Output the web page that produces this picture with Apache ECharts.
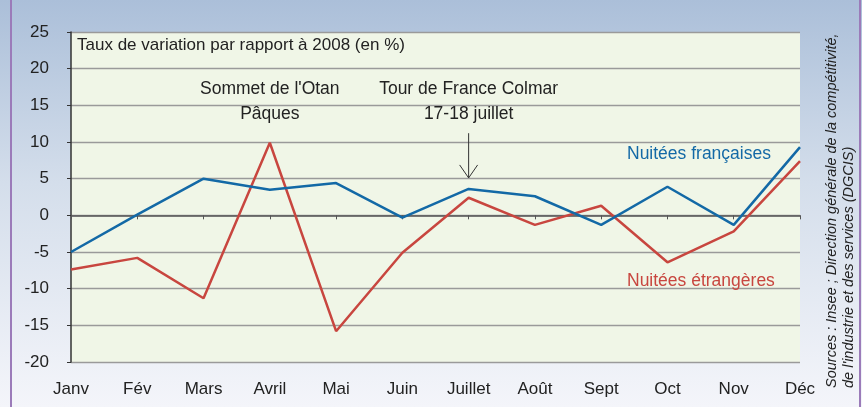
<!DOCTYPE html>
<html>
<head>
<meta charset="utf-8">
<script src="https://cdn.jsdelivr.net/npm/echarts@6/dist/echarts.min.js"></script>
<style>
html,body{margin:0;padding:0;}
#c{width:862px;height:407px;background:linear-gradient(to bottom,#abbfd9 0%,#d4deeb 45%,#f4f5fa 100%);}
</style>
</head>
<body>
<div id="c"></div>
<script>
var categories = ['Janv','Fév','Mars','Avril','Mai','Juin','Juillet','Août','Sept','Oct','Nov','Déc'];
var nuiteesFrancaises = [-5.0, 0.1, 5.0, 3.5, 4.4, -0.3, 3.6, 2.6, -1.3, 3.9, -1.3, 9.3];
var nuiteesEtrangeres = [-7.4, -5.8, -11.3, 9.9, -15.8, -5.1, 2.4, -1.3, 1.3, -6.4, -2.2, 7.4];
var yTicks = {min: -20, max: 25, interval: 5};

var FONT = "'Liberation Sans',Arial,sans-serif";
var chart = echarts.init(document.getElementById('c'), null, {renderer:'canvas'});
var option = {
  animation: false,
  backgroundColor: 'transparent',
  textStyle: {fontFamily: FONT},
  grid: {left: 71, right: 62, top: 32, bottom: 45, show: true, backgroundColor: '#f0f6e7', borderWidth: 0},
  xAxis: [{
    type: 'category', data: categories, boundaryGap: false, position: 'bottom',
    axisLine: {show: false, onZero: false}, axisTick: {show: false}, splitLine: {show: false},
    axisLabel: {color: '#222', fontSize: 17, margin: 19, fontFamily: FONT}
  },{
    type: 'category', data: categories, boundaryGap: false, position: 'bottom',
    axisLine: {show: true, onZero: true, lineStyle: {color: '#555', width: 1.5}},
    axisTick: {show: true, length: 4, lineStyle: {color: '#555', width: 1}},
    axisLabel: {show: false}, splitLine: {show: false}
  }],
  yAxis: {
    type: 'value', min: yTicks.min, max: yTicks.max, interval: yTicks.interval,
    axisLine: {show: true, lineStyle: {color: '#333', width: 1.5}},
    axisTick: {show: true, length: 4, lineStyle: {color: '#333'}},
    axisLabel: {color: '#222', fontSize: 17, margin: 22, fontFamily: FONT},
    splitLine: {show: true, lineStyle: {color: '#9a9a9a', width: 1.3}}
  },
  series: [{
    name: 'Nuitées françaises', type: 'line', data: nuiteesFrancaises, xAxisIndex: 0,
    symbol: 'none', lineStyle: {color: '#1369a6', width: 2.5}, z: 3
  },{
    name: 'Nuitées étrangères', type: 'line', data: nuiteesEtrangeres, xAxisIndex: 0,
    symbol: 'none', lineStyle: {color: '#c8463f', width: 2.5}, z: 2
  }]
};
chart.setOption(option);

var arrowTop = chart.convertToPixel({gridIndex: 0}, ['Juillet', 11.2]);
var arrowTip = chart.convertToPixel({gridIndex: 0}, ['Juillet', 5.1]);
var avrilPx = chart.convertToPixel({gridIndex: 0}, ['Avril', 0]);
var juilletPx = chart.convertToPixel({gridIndex: 0}, ['Juillet', 0]);

chart.setOption({
  graphic: [
    {type: 'rect', shape: {x: 10, y: 0, width: 2, height: 407}, style: {fill: '#9b7bb9'}, silent: true},
    {type: 'rect', shape: {x: 859, y: 0, width: 2, height: 407}, style: {fill: '#9b7bb9'}, silent: true},
    {type: 'text', x: 77, y: 45, style: {text: 'Taux de variation par rapport à 2008 (en %)', font: '17px ' + FONT, fill: '#222', textVerticalAlign: 'middle'}, z: 10},
    {type: 'text', x: avrilPx[0], y: 89, style: {text: "Sommet de l'Otan", font: '17.5px ' + FONT, fill: '#222', textAlign: 'center', textVerticalAlign: 'middle'}, z: 10},
    {type: 'text', x: avrilPx[0], y: 114, style: {text: 'Pâques', font: '17.5px ' + FONT, fill: '#222', textAlign: 'center', textVerticalAlign: 'middle'}, z: 10},
    {type: 'text', x: juilletPx[0], y: 89, style: {text: 'Tour de France Colmar', font: '17.5px ' + FONT, fill: '#222', textAlign: 'center', textVerticalAlign: 'middle'}, z: 10},
    {type: 'text', x: juilletPx[0], y: 114, style: {text: '17-18 juillet', font: '17.5px ' + FONT, fill: '#222', textAlign: 'center', textVerticalAlign: 'middle'}, z: 10},
    {type: 'line', shape: {x1: arrowTop[0], y1: arrowTop[1], x2: arrowTip[0], y2: arrowTip[1]}, style: {stroke: '#333', lineWidth: 1}, z: 10},
    {type: 'polyline', shape: {points: [[arrowTip[0]-9, arrowTip[1]-13], [arrowTip[0], arrowTip[1]], [arrowTip[0]+9, arrowTip[1]-13]]}, style: {stroke: '#333', lineWidth: 1, fill: null}, z: 10},
    {type: 'text', x: 627, y: 154, style: {text: 'Nuitées françaises', font: '17.5px ' + FONT, fill: '#1369a6', textVerticalAlign: 'middle'}, z: 10},
    {type: 'text', x: 627, y: 281, style: {text: 'Nuitées étrangères', font: '17.5px ' + FONT, fill: '#c8463f', textVerticalAlign: 'middle'}, z: 10},
    {type: 'text', x: 832, y: 388, rotation: Math.PI/2, style: {text: 'Sources : Insee ; Direction générale de la compétitivité,', font: 'italic 14.5px ' + FONT, fill: '#222', textAlign: 'left', textVerticalAlign: 'middle'}, z: 10},
    {type: 'text', x: 849, y: 388, rotation: Math.PI/2, style: {text: "de l'industrie et des services (DGCIS)", font: 'italic 14.5px ' + FONT, fill: '#222', textAlign: 'left', textVerticalAlign: 'middle'}, z: 10}
  ]
});
</script>
</body>
</html>
